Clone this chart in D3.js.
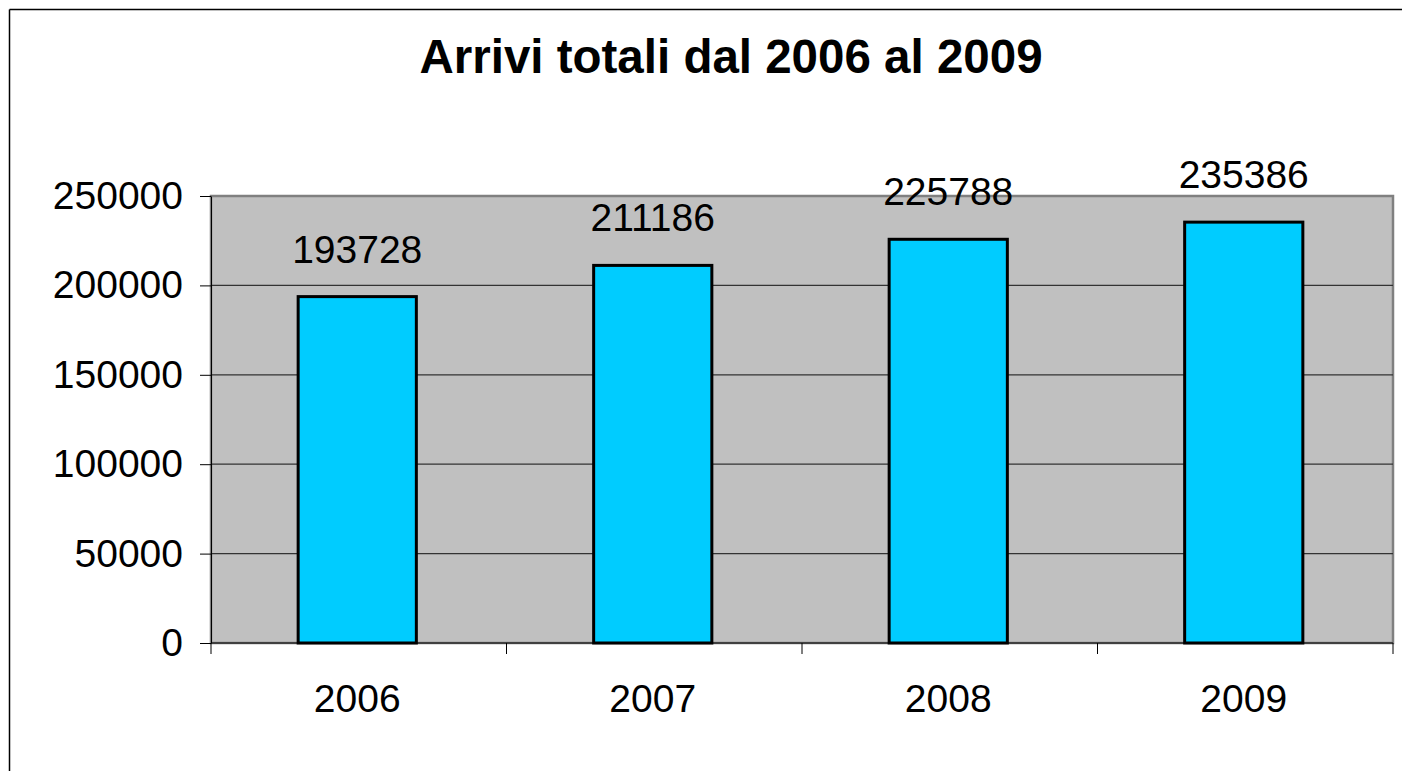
<!DOCTYPE html>
<html><head><meta charset="utf-8">
<script src="https://cdn.jsdelivr.net/npm/d3@7"></script>
<style>html,body{margin:0;padding:0;background:#fff;overflow:hidden;width:1402px;height:771px}text{font-family:"Liberation Sans",Arial,sans-serif}</style>
</head><body><svg id="c" width="1402" height="771" style="display:block"></svg>
<script>
const title = "Arrivi totali dal 2006 al 2009";
const categories = ["2006","2007","2008","2009"];
const values = [193728, 211186, 225788, 235386];
const yTicks = [0, 50000, 100000, 150000, 200000, 250000];

const svg = d3.select("#c");
const plot = {l: 211, t: 196, r: 1393, b: 643};

svg.append("rect").attr("x",0).attr("y",0).attr("width",1402).attr("height",771).attr("fill","#fff");

// outer chart frame: only top and left edges fall inside the view
svg.append("line").attr("x1",9.5).attr("y1",9.5).attr("x2",1402).attr("y2",9.5).attr("stroke","#000").attr("stroke-width",1.5);
svg.append("line").attr("x1",9.5).attr("y1",9.5).attr("x2",9.5).attr("y2",771).attr("stroke","#000").attr("stroke-width",1.5);

svg.append("text").attr("x",731).attr("y",73).attr("text-anchor","middle")
  .attr("font-size",47.5).attr("font-weight","bold").text(title);

const x = d3.scaleBand().domain(categories).range([plot.l, plot.r]).paddingInner(0).paddingOuter(0);
const y = d3.scaleLinear().domain([0,250000]).range([plot.b, plot.t]);

svg.append("rect").attr("x",plot.l).attr("y",plot.t).attr("width",plot.r-plot.l).attr("height",plot.b-plot.t)
  .attr("fill","#c0c0c0").attr("stroke","#808080").attr("stroke-width",2.5);

svg.append("g").selectAll("line").data(yTicks.filter(d=>d>0 && d<250000)).join("line")
  .attr("x1",plot.l).attr("x2",plot.r).attr("y1",d=>y(d)).attr("y2",d=>y(d))
  .attr("stroke","#333").attr("stroke-width",1.2);

const bw = x.bandwidth()*0.4;
svg.append("g").selectAll("rect").data(values).join("rect")
  .attr("x",(d,i)=>x(categories[i])+x.bandwidth()/2-bw/2-1.5)
  .attr("y",d=>y(d)).attr("width",bw).attr("height",d=>plot.b-y(d))
  .attr("fill","#00ccff").attr("stroke","#000").attr("stroke-width",3);

svg.append("g").selectAll("text").data(values).join("text")
  .attr("x",(d,i)=>x(categories[i])+x.bandwidth()/2-1.5)
  .attr("y",d=>y(d)-34).attr("text-anchor","middle").attr("font-size",39)
  .text(d=>d);

const yAxis = d3.axisLeft(y).tickValues(yTicks).tickSize(11).tickSizeOuter(0).tickPadding(17).tickFormat(d3.format("d"));
const ga = svg.append("g").attr("transform",`translate(${plot.l},0)`).call(yAxis);
ga.select(".domain").attr("stroke","#000").attr("stroke-width",1);
ga.selectAll("text").attr("font-size",39).attr("fill","#000").attr("font-family","Liberation Sans, Arial, sans-serif");

const gx = svg.append("g").attr("transform",`translate(0,${plot.b})`);
gx.append("line").attr("x1",plot.l).attr("x2",plot.r).attr("stroke","#000").attr("stroke-width",1);
gx.selectAll("line.t").data(d3.range(categories.length+1)).join("line").attr("class","t")
  .attr("x1",i=>plot.l+i*x.step()).attr("x2",i=>plot.l+i*x.step()).attr("y1",0).attr("y2",11)
  .attr("stroke","#000").attr("stroke-width",1);
gx.selectAll("text").data(categories).join("text")
  .attr("x",d=>x(d)+x.bandwidth()/2-1.5).attr("y",69).attr("text-anchor","middle")
  .attr("font-size",39).text(d=>d);
</script></body></html>
